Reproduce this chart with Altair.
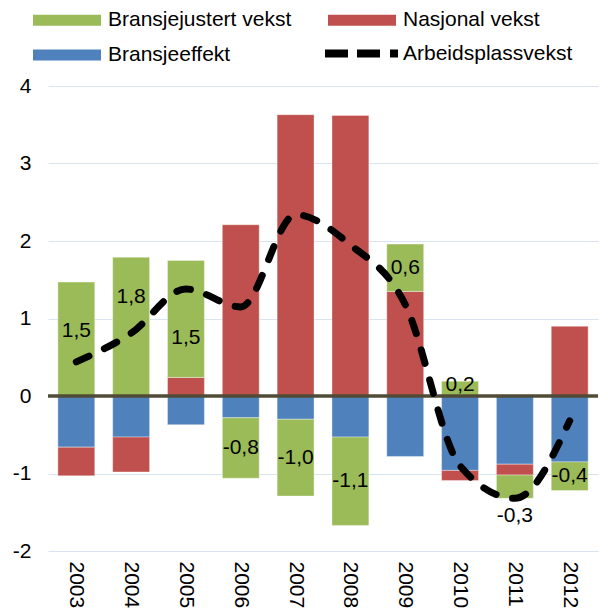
import altair as alt
import pandas as pd

years = ["2003", "2004", "2005", "2006", "2007", "2008", "2009", "2010", "2011", "2012"]
bransjejustert = [1.47, 1.79, 1.51, -0.78, -0.99, -1.14, 0.61, 0.19, -0.30, -0.37]
nasjonal = [-0.37, -0.45, 0.24, 2.21, 3.63, 3.62, 1.35, -0.13, -0.14, 0.90]
bransjeeffekt = [-0.66, -0.53, -0.37, -0.28, -0.30, -0.53, -0.78, -0.96, -0.88, -0.85]
arbeidsplass = [0.44, 0.81, 1.38, 1.15, 2.34, 1.95, 1.18, -0.90, -1.32, -0.32]

series_names = ["Bransjejustert vekst", "Nasjonal vekst", "Bransjeeffekt"]
series_colors = ["#9BBB59", "#C0504D", "#4F81BD"]
line_name = "Arbeidsplassvekst"
y_ticks = [-2, -1, 0, 1, 2, 3, 4]

# label nudges (pixels) as placed in the original chart
label_below = ["2011"]
label_dy = {"2003": -8, "2004": -30, "2005": 19, "2010": -4, "2011": 18}

FONT = "Liberation Sans"

rows = []
labels = []
for i, yr in enumerate(years):
    pos, neg = 0.0, 0.0
    for name, vals in [("Bransjeeffekt", bransjeeffekt),
                       ("Nasjonal vekst", nasjonal),
                       ("Bransjejustert vekst", bransjejustert)]:
        v = vals[i]
        if v >= 0:
            s, e = pos, pos + v
            pos = e
        else:
            s, e = neg, neg + v
            neg = e
        rows.append(dict(year=yr, series=name, start=s, end=e))
        if name == "Bransjejustert vekst":
            below = yr in label_below
            labels.append(dict(year=yr, text=f"{v:.1f}".replace(".", ","),
                               pos=(e if below else (s + e) / 2),
                               dy=label_dy.get(yr, 0)))
bars_df = pd.DataFrame(rows)
lab_df = pd.DataFrame(labels)
line_df = pd.DataFrame({"year": years, "value": arbeidsplass, "name": [line_name] * len(years)})

x_enc = alt.X("year:N", sort=years,
              scale=alt.Scale(paddingInner=0.327, paddingOuter=0.18),
              axis=alt.Axis(title=None, labelAngle=90, ticks=False, domain=False,
                            labelPadding=10, labelFontSize=21, labelFont=FONT,
                            labelColor="black", grid=False))
y_scale = alt.Scale(domain=[-2, 4], nice=False)

bars = alt.Chart(bars_df).mark_bar(stroke="white", strokeWidth=0.6, strokeOpacity=0.6).encode(
    x=x_enc,
    y=alt.Y("start:Q", scale=y_scale,
            axis=alt.Axis(title=None, values=y_ticks, grid=True, gridColor="#D9E4F1",
                          gridWidth=1.2, ticks=False, domain=False, labelPadding=17,
                          labelFontSize=21, labelFont=FONT, labelColor="black",
                          labelExpr="datum.value")),
    y2="end:Q",
    color=alt.Color("series:N",
                    scale=alt.Scale(domain=series_names, range=series_colors),
                    legend=alt.Legend(title=None, orient="none", legendX=8.5, legendY=-76.5,
                                      direction="horizontal",
                                      columns=2, columnPadding=36, rowPadding=13,
                                      symbolType="M-6.8,-1.1L6.8,-1.1L6.8,1.1L-6.8,1.1Z",
                                      symbolSize=100, symbolStrokeWidth=0,
                                      labelOffset=30.5, labelFontSize=21, labelFont=FONT,
                                      labelColor="black", labelLimit=400, padding=0)),
)

zero = alt.Chart(pd.DataFrame({"v": [0]})).mark_rule(color="#504B36", strokeWidth=3.5).encode(
    y=alt.Y("v:Q", scale=y_scale)
)

line = alt.Chart(line_df).mark_line(strokeWidth=7, strokeCap="round", strokeDash=[14, 17],
                                    interpolate="monotone").encode(
    x=alt.X("year:N", sort=years),
    y=alt.Y("value:Q", scale=y_scale),
    stroke=alt.Stroke("name:N", scale=alt.Scale(domain=[line_name], range=["black"]),
                      legend=alt.Legend(title=None, orient="none", legendX=273, legendY=-73,
                                        symbolType="stroke", symbolSize=5329,
                                        symbolStrokeWidth=8, symbolDash=[23, 9, 23, 10, 8, 100],
                                        labelOffset=1, labelFontSize=21, labelFont=FONT,
                                        labelColor="black", labelLimit=400, padding=0)),
)

text_layers = []
for d in sorted(set(lab_df["dy"])):
    text_layers.append(
        alt.Chart(lab_df).transform_filter(f"datum.dy == {d}").mark_text(
            fontSize=21, font=FONT, color="black", baseline="middle", align="center", dy=d
        ).encode(x=alt.X("year:N", sort=years), y=alt.Y("pos:Q", scale=y_scale), text="text:N")
    )

chart = alt.layer(bars, zero, line, *text_layers).properties(
    width=550, height=465,
    padding={"left": 40, "top": 78, "right": 2, "bottom": 60},
    autosize=alt.AutoSizeParams(type="none"),
).configure_view(stroke=None)

chart.save("out.html", embed_options={"renderer": "svg", "actions": False})
